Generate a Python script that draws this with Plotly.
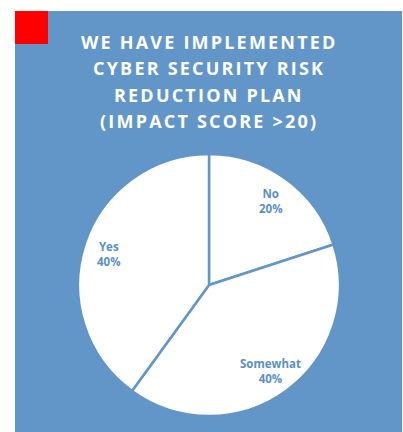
import math
import plotly.graph_objects as go

# Survey responses
categories = ["No", "Somewhat", "Yes"]
shares = [20, 40, 40]

title_lines = [
    "WE HAVE IMPLEMENTED",
    "CYBER SECURITY RISK",
    "REDUCTION PLAN",
    "(IMPACT SCORE &gt;20)",
]

W, H = 403, 432
PANEL = "#6296C8"
LABEL = "#5B8FC6"

# pie placement (pixels)
cx, cy, r = 209, 285, 131

fig = go.Figure(
    go.Pie(
        labels=categories,
        values=shares,
        sort=False,
        direction="clockwise",
        rotation=0,
        marker=dict(colors=["white"] * len(categories), line=dict(color=PANEL, width=2.5)),
        textinfo="none",
        hoverinfo="label+percent",
        showlegend=False,
        domain=dict(x=[(cx - r) / W, (cx + r) / W], y=[1 - (cy + r) / H, 1 - (cy - r) / H]),
    )
)

# slice labels at the middle angle of each slice
total = sum(shares)
start = 0.0
for cat, v in zip(categories, shares):
    mid = start + v / total * 360 / 2
    start += v / total * 360
    rr = 0.8 * r
    px = cx + rr * math.sin(math.radians(mid))
    py = cy - rr * math.cos(math.radians(mid)) + 1
    fig.add_annotation(
        x=px / W, y=1 - py / H, xref="paper", yref="paper",
        xanchor="center", yanchor="middle",
        text=f"<b>{cat}<br>{round(v / total * 100)}%</b>",
        showarrow=False, align="center",
        font=dict(family="Open Sans, sans-serif", size=11.5, color=LABEL),
    )

# title, one line per annotation, letter-spaced
for i, line in enumerate(title_lines):
    fig.add_annotation(
        x=209 / W, y=1 - (42 + i * 26.3) / H, xref="paper", yref="paper",
        xanchor="center", yanchor="middle",
        text=f'<span style="letter-spacing:2.2px"><b>{line}</b></span>',
        showarrow=False, align="center",
        font=dict(family="Open Sans, sans-serif", size=18, color="white"),
    )

fig.update_layout(
    width=W, height=H,
    margin=dict(l=0, r=0, t=0, b=0),
    paper_bgcolor="white",
    plot_bgcolor="white",
    shapes=[
        dict(type="rect", xref="paper", yref="paper", layer="below",
             x0=15 / W, x1=402 / W, y0=0, y1=1 - 11 / H,
             fillcolor=PANEL, line=dict(width=0)),
        dict(type="rect", xref="paper", yref="paper", layer="above",
             x0=15 / W, x1=48 / W, y0=1 - 44 / H, y1=1 - 11 / H,
             fillcolor="#FF0000", line=dict(width=0)),
    ],
)

fig.write_html("out.html", config={"displayModeBar": False})
